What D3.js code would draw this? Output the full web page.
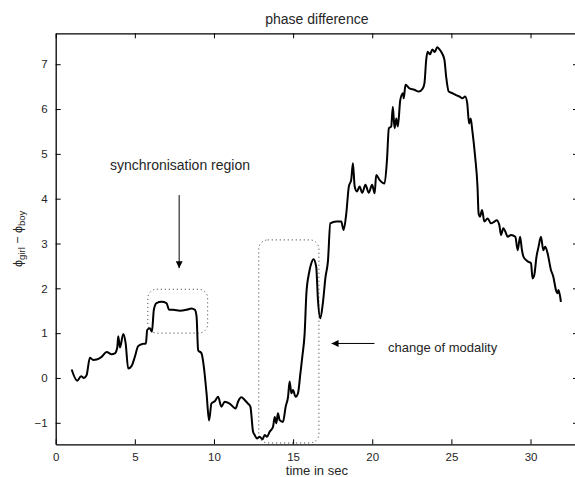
<!DOCTYPE html>
<html>
<head>
<meta charset="utf-8">
<script src="https://cdn.jsdelivr.net/npm/d3@7"></script>
<style>
  html, body { margin: 0; padding: 0; background: #fff; }
  svg { display: block; font-family: "Liberation Sans", Arial, Helvetica, sans-serif; }
</style>
</head>
<body>
<svg id="chart" width="575" height="477"></svg>
<script>
// Phase difference between the two recorded signals, in radians, over time (s)
const timeSec = [
  1.01, 1.36, 1.6, 1.78, 1.95, 2.16, 2.37, 2.59, 2.9, 3.22, 3.53, 3.74, 3.89, 3.95, 4.06, 4.27, 4.42, 4.58, 4.8, 5.0,
  5.21, 5.49, 5.7, 5.78, 5.95, 6.08, 6.2, 6.37, 6.69, 7.0, 7.17, 7.42, 7.84, 8.26, 8.58, 8.79, 8.9, 9.0, 9.21, 9.36,
  9.53, 9.69, 9.84, 10.05, 10.26, 10.47, 10.68, 10.99, 11.37, 11.52, 11.73, 11.94, 12.15, 12.3, 12.47, 12.57, 12.72, 12.89, 13.06, 13.21,
  13.35, 13.52, 13.73, 13.84, 13.94, 14.04, 14.15, 14.36, 14.53, 14.68, 14.78, 14.89, 14.99, 15.16, 15.31, 15.46, 15.58, 15.73, 15.84, 16.0,
  16.15, 16.29, 16.46, 16.57, 16.72, 16.88, 17.05, 17.2, 17.35, 17.73, 18.04, 18.19, 18.36, 18.52, 18.67, 18.78, 18.89, 19.03, 19.2, 19.37,
  19.57, 19.78, 19.99, 20.15, 20.25, 20.46, 20.78, 20.93, 21.05, 21.2, 21.3, 21.41, 21.52, 21.62, 21.77, 21.94, 21.99, 22.1, 22.35, 22.66,
  22.94, 23.19, 23.3, 23.41, 23.5, 23.65, 23.8, 23.95, 24.1, 24.25, 24.4, 24.56, 24.67, 24.83, 25.08, 25.29, 25.5, 25.7, 25.87, 26.0,
  26.12, 26.22, 26.32, 26.5, 26.65, 26.72, 26.81, 26.94, 27.08, 27.29, 27.5, 27.72, 27.86, 28.03, 28.14, 28.28, 28.45, 28.55, 28.77, 29.04,
  29.19, 29.34, 29.46, 29.55, 29.72, 29.88, 30.03, 30.13, 30.24, 30.38, 30.51, 30.66, 30.81, 30.93, 31.08, 31.29, 31.44, 31.61, 31.71, 31.77,
  31.92
];
const phaseDiff = [
  0.19, -0.06, 0.04, 0.0, 0.06, 0.45, 0.4, 0.41, 0.47, 0.58, 0.53, 0.55, 0.68, 0.93, 0.68, 0.98, 0.77, 0.21, 0.27, 0.47,
  0.71, 0.76, 0.77, 1.07, 1.11, 1.03, 1.52, 1.67, 1.7, 1.67, 1.52, 1.52, 1.5, 1.52, 1.55, 1.52, 1.37, 0.62, 0.55, 0.25,
  -0.34, -0.95, -0.57, -0.52, -0.42, -0.64, -0.53, -0.57, -0.68, -0.53, -0.43, -0.49, -0.57, -0.64, -1.2, -1.27, -1.35, -1.31, -1.37, -1.27,
  -1.31, -1.2, -1.09, -0.87, -1.01, -0.79, -0.94, -0.98, -0.64, -0.42, -0.08, -0.34, -0.27, -0.42, -0.34, 0.1, 0.47, 1.0, 1.89, 2.33,
  2.56, 2.65, 2.48, 1.74, 1.33, 1.67, 2.26, 2.6, 3.45, 3.49, 3.49, 3.3, 3.67, 4.27, 4.42, 4.79, 4.27, 4.16, 4.27, 4.13,
  4.31, 4.13, 4.31, 4.12, 4.53, 4.42, 4.34, 4.86, 5.57, 5.61, 6.05, 5.57, 5.79, 5.61, 6.2, 6.35, 6.24, 6.54, 6.46, 6.43,
  6.39, 6.46, 6.58, 7.1, 7.28, 7.22, 7.33, 7.27, 7.38, 7.33, 7.25, 7.1, 6.72, 6.39, 6.35, 6.31, 6.28, 6.24, 6.28, 6.13,
  5.68, 5.79, 5.53, 4.94, 4.27, 3.67, 3.6, 3.75, 3.49, 3.56, 3.45, 3.49, 3.52, 3.41, 3.19, 3.34, 3.23, 3.15, 3.19, 3.15,
  2.85, 3.15, 2.85, 2.71, 2.63, 2.59, 2.56, 2.22, 2.3, 2.71, 2.93, 3.15, 2.85, 2.93, 2.78, 2.41, 2.26, 1.96, 1.89, 1.96,
  1.7
];

const xTicks = [0, 5, 10, 15, 20, 25, 30];
const yTicks = [-1, 0, 1, 2, 3, 4, 5, 6, 7];
const xDomain = [0, 33];
const yDomain = [-1.48, 7.69];

// Highlighted regions: [t0, t1, v0, v1]
const syncRegion = [5.82, 9.6, 1.0, 1.98];
const modalityRegion = [12.83, 16.63, -1.45, 3.08];

const margin = { left: 55.7, top: 33.3, right: 578, bottom: 444.3 };
const textColor = "#262626";

const svg = d3.select("#chart");
const x = d3.scaleLinear().domain(xDomain).range([margin.left, margin.right]);
const y = d3.scaleLinear().domain(yDomain).range([margin.bottom, margin.top]);

// Dotted annotation boxes
function dottedBox(r) {
  const x0 = x(r[0]), x1 = x(r[1]), y0 = y(r[3]), y1 = y(r[2]);
  svg.append("rect")
    .attr("x", x0).attr("y", y0)
    .attr("width", x1 - x0).attr("height", y1 - y0)
    .attr("rx", 9).attr("ry", 9)
    .attr("fill", "none")
    .attr("stroke", "#333")
    .attr("stroke-width", 1)
    .attr("stroke-dasharray", "1,3");
}
dottedBox(syncRegion);
dottedBox(modalityRegion);

// Data trace
const line = d3.line().x((d, i) => x(timeSec[i])).y(d => y(d)).curve(d3.curveMonotoneX);
svg.append("path")
  .datum(phaseDiff)
  .attr("d", line)
  .attr("fill", "none")
  .attr("stroke", "#000")
  .attr("stroke-width", 2)
  .attr("stroke-linejoin", "round");

// Axes with inward ticks on all four sides
const tickLen = 5;
const axisStyle = g => {
  g.select(".domain").attr("stroke", "#000").attr("stroke-width", 1.3);
  g.selectAll(".tick line").attr("stroke", "#000");
  g.selectAll(".tick text").attr("fill", textColor).style("font-size", "11.5px")
    .style("font-family", "'Liberation Sans', Arial, Helvetica, sans-serif");
};
svg.append("g").attr("transform", `translate(0,${margin.bottom})`)
  .call(d3.axisBottom(x).tickValues(xTicks).tickSizeInner(-tickLen).tickSizeOuter(0).tickPadding(9).tickFormat(d3.format("d")))
  .call(axisStyle);
svg.append("g").attr("transform", `translate(0,${margin.top})`)
  .call(d3.axisTop(x).tickValues(xTicks).tickSizeInner(-tickLen).tickSizeOuter(0).tickFormat(""))
  .call(axisStyle);
svg.append("g").attr("transform", `translate(${margin.left},0)`)
  .call(d3.axisLeft(y).tickValues(yTicks).tickSizeInner(-tickLen).tickSizeOuter(0).tickPadding(8)
    .tickFormat(d => d < 0 ? "\u2212" + Math.abs(d) : d))
  .call(axisStyle);
svg.append("g").attr("transform", `translate(${margin.right},0)`)
  .call(d3.axisRight(y).tickValues(yTicks).tickSizeInner(-tickLen).tickSizeOuter(0).tickFormat(""))
  .call(axisStyle);

// Titles
svg.append("text")
  .attr("x", (margin.left + margin.right) / 2).attr("y", 24)
  .attr("text-anchor", "middle").attr("fill", textColor).style("font-size", "14px")
  .text("phase difference");
svg.append("text")
  .attr("x", (margin.left + margin.right) / 2).attr("y", 475)
  .attr("text-anchor", "middle").attr("fill", textColor).style("font-size", "13px")
  .text("time in sec");

const yl = svg.append("text")
  .attr("transform", `translate(22,${(margin.top + margin.bottom) / 2}) rotate(-90)`)
  .attr("text-anchor", "middle").attr("fill", textColor).style("font-size", "12.5px");
yl.append("tspan").text("\u03D5");
yl.append("tspan").attr("baseline-shift", "-30%").style("font-size", "9.5px").text("girl");
yl.append("tspan").text(" \u2212 \u03D5");
yl.append("tspan").attr("baseline-shift", "-30%").style("font-size", "9.5px").text("boy");

// Annotations with arrows
svg.append("defs").append("marker")
  .attr("id", "head").attr("viewBox", "0 0 10 10")
  .attr("refX", 10).attr("refY", 5)
  .attr("markerWidth", 7).attr("markerHeight", 7)
  .attr("markerUnits", "userSpaceOnUse")
  .attr("orient", "auto")
  .append("path").attr("d", "M0,0 L10,5 L0,10 Z").attr("fill", "#000");

svg.append("text")
  .attr("x", x(7.85)).attr("y", y(4.75) + 5)
  .attr("text-anchor", "middle").attr("fill", textColor).style("font-size", "14px")
  .text("synchronisation region");
svg.append("line")
  .attr("x1", x(7.8)).attr("y1", y(4.08))
  .attr("x2", x(7.8)).attr("y2", y(2.45))
  .attr("stroke", "#000").attr("stroke-width", 1)
  .attr("marker-end", "url(#head)");

svg.append("line")
  .attr("x1", x(20.14)).attr("y1", y(0.77))
  .attr("x2", x(17.43)).attr("y2", y(0.77))
  .attr("stroke", "#000").attr("stroke-width", 1)
  .attr("marker-end", "url(#head)");
svg.append("text")
  .attr("x", x(21.0)).attr("y", y(0.69) + 5)
  .attr("text-anchor", "start").attr("fill", textColor).style("font-size", "13px")
  .text("change of modality");
</script>
</body>
</html>
